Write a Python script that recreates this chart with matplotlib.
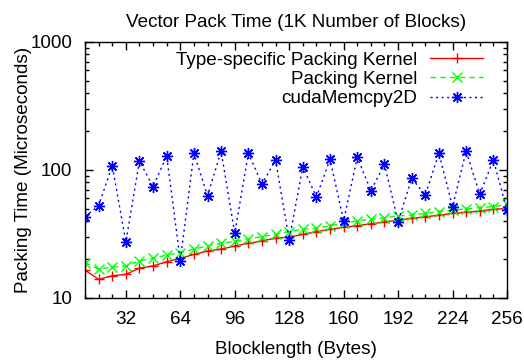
import matplotlib
matplotlib.use('Agg')
import matplotlib.pyplot as plt
from matplotlib.ticker import FixedLocator, MultipleLocator, NullFormatter, LogLocator

plt.rcParams['font.family'] = ['Liberation Sans', 'DejaVu Sans']

# blocklength in bytes
blocklen = list(range(8, 257, 8))

# packing times (microseconds)
type_specific = [16.5, 14.0, 14.9, 15.3, 17.1, 17.8, 19.2, 20.4, 21.9, 23.3, 24.1, 25.5,
                 26.7, 27.9, 29.3, 29.9, 31.4, 33.0, 34.4, 35.7, 36.7, 38.0, 39.2, 40.6,
                 41.9, 43.1, 44.3, 45.8, 46.7, 47.8, 49.3, 50.1]
packing_kernel = [18.9, 16.8, 17.4, 17.8, 19.5, 20.4, 21.7, 22.6, 24.1, 25.5, 26.7, 27.7,
                  29.0, 30.1, 31.6, 33.0, 34.4, 35.0, 36.7, 38.3, 40.0, 41.2, 42.4, 43.7,
                  44.5, 45.8, 47.2, 48.7, 49.6, 50.8, 51.7, 53.9]
memcpy2d = [43.1, 52.6, 108, 27.5, 117.6, 74, 129, 19.6, 135, 63, 140, 32,
            135, 77.7, 119.7, 28.4, 106, 61.6, 121, 40.2, 125.6, 68.9, 111, 39.5,
            86, 63.8, 135, 51.7, 140.6, 64.6, 119.7, 48.7]

x_ticks = [32, 64, 96, 128, 160, 192, 224, 256]
y_ticks = [10, 100, 1000]

fs = 13.6

fig = plt.figure(figsize=(5.24, 3.6), dpi=100)
ax = fig.add_axes([85 / 524, 1 - 298 / 360, (507 - 85) / 524, (298 - 42) / 360])

ax.plot(blocklen, type_specific, color='#ff0000', ls='-', lw=1.0, marker='+', ms=7,
        mew=1.0, label='Type-specific Packing Kernel')
ax.plot(blocklen, packing_kernel, color='#00ff00', ls=(0, (4, 3)), lw=1.0, marker='x', ms=7,
        mew=1.0, label='Packing Kernel')
ax.plot(blocklen, memcpy2d, color='#0000ff', ls=(0, (1.5, 2.5)), lw=1.0, marker=(8, 2, 0), ms=8,
        mew=1.0, label='cudaMemcpy2D')

ax.set_yscale('log')
ax.set_xlim(8, 256)
ax.set_ylim(10, 1000)

ax.xaxis.set_major_locator(FixedLocator(x_ticks))
ax.xaxis.set_minor_locator(MultipleLocator(8))
ax.set_xticklabels([str(t) for t in x_ticks])
ax.yaxis.set_major_locator(FixedLocator(y_ticks))
ax.yaxis.set_minor_locator(LogLocator(base=10, subs=range(2, 10)))
ax.yaxis.set_minor_formatter(NullFormatter())
ax.set_yticklabels([str(t) for t in y_ticks])

ax.tick_params(which='both', direction='in', top=True, right=True, labelsize=fs, width=1.0)
ax.tick_params(which='major', length=6, pad=9)
ax.tick_params(which='minor', length=3)
for s in ax.spines.values():
    s.set_linewidth(1.0)

ax.set_title('Vector Pack Time (1K Number of Blocks)', fontsize=fs, pad=11)
ax.set_xlabel('Blocklength (Bytes)', fontsize=fs, labelpad=10)
ax.set_ylabel('Packing Time (Microseconds)', fontsize=fs, labelpad=-1)

leg = ax.legend(loc='upper right', bbox_to_anchor=(0.943, 0.962), markerfirst=False,
                frameon=False, fontsize=fs, handlelength=2.78, handletextpad=0.68,
                labelspacing=0.1, borderaxespad=0.0, borderpad=0.0)

fig.savefig('out.png', dpi=100)
